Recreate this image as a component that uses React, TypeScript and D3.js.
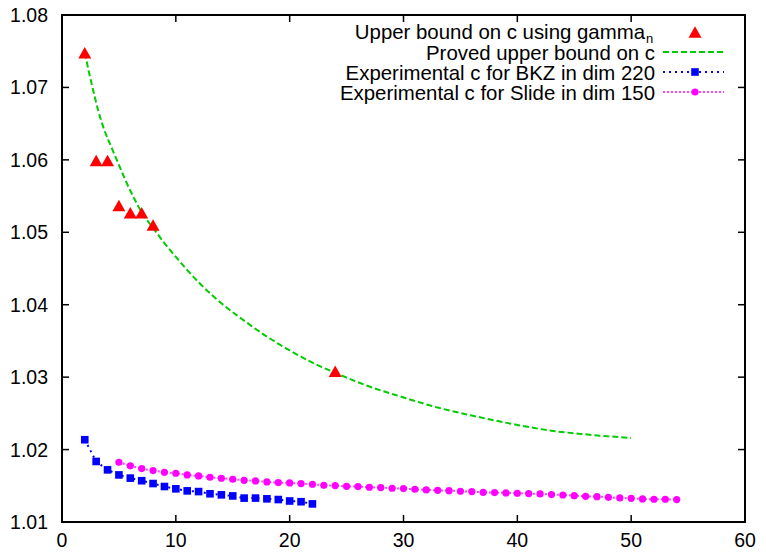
import React from "react";
import * as d3 from "d3";

// Block size k on the x axis, constant c on the y axis.
const xTicks = [0, 10, 20, 30, 40, 50, 60];
const yTicks = [1.01, 1.02, 1.03, 1.04, 1.05, 1.06, 1.07, 1.08];

// Upper bound on c using gamma_n (Hermite constants known exactly)
const gammaK = [2, 3, 4, 5, 6, 7, 8, 24];
const gammaC = [1.0748, 1.0599, 1.0599, 1.0537, 1.0527, 1.0527, 1.0510, 1.0308];

// Proved upper bound on c
const provedK = [2, 2.4, 2.8, 3.2, 3.7, 4.3, 5, 5.6, 6.3, 7.1, 8, 9, 10, 12, 14, 16, 18, 20, 22, 24, 27, 30, 33, 36, 40, 43, 46, 50];
const provedC = [1.0748, 1.0719, 1.0692, 1.0667, 1.0642, 1.0619, 1.0593, 1.0571, 1.0548, 1.0525, 1.0506, 1.0485, 1.0466, 1.0431, 1.0402, 1.0378, 1.0356, 1.0337, 1.0320, 1.0306, 1.0287, 1.0272, 1.0258, 1.0247, 1.0234, 1.0226, 1.0221, 1.0216];

// Experimental c for BKZ in dimension 220
const bkzK = [2, 3, 4, 5, 6, 7, 8, 9, 10, 11, 12, 13, 14, 15, 16, 17, 18, 19, 20, 21, 22];
const bkzC = [1.02136, 1.01836, 1.0172, 1.0165, 1.01606, 1.0157, 1.01531, 1.0149, 1.01458, 1.0143, 1.0142, 1.0139, 1.01375, 1.0136, 1.0133, 1.0133, 1.0132, 1.0131, 1.0129, 1.0128, 1.0125];

// Experimental c for Slide in dimension 150
const slideK = [5, 6, 7, 8, 9, 10, 11, 12, 13, 14, 15, 16, 17, 18, 19, 20, 21, 22, 23, 24, 25, 26, 27, 28, 29, 30, 31, 32, 33, 34, 35, 36, 37, 38, 39, 40, 41, 42, 43, 44, 45, 46, 47, 48, 49, 50, 51, 52, 53, 54];
const slideC = [1.01825, 1.01775, 1.01738, 1.0171, 1.01687, 1.01673, 1.0165, 1.01636, 1.01618, 1.01604, 1.0159, 1.01576, 1.01567, 1.01553, 1.01544, 1.0154, 1.0153, 1.01521, 1.01507, 1.01503, 1.01493, 1.01489, 1.0148, 1.01475, 1.01466, 1.01461, 1.01452, 1.01443, 1.01438, 1.01433, 1.01424, 1.0142, 1.0141, 1.01406, 1.01401, 1.01397, 1.01392, 1.01387, 1.01378, 1.01373, 1.01364, 1.01355, 1.0135, 1.01341, 1.01332, 1.01327, 1.01318, 1.01314, 1.01314, 1.01309];

const legendLabels = [
  "Upper bound on c using gamma",
  "Proved upper bound on c",
  "Experimental c for BKZ in dim 220",
  "Experimental c for Slide in dim 150",
];

const W = 766;
const H = 552;
const M = { left: 62, right: 745, top: 15, bottom: 522 };
const FONT = "'Liberation Sans', Arial, Helvetica, sans-serif";

const RED = "#ff0000";
const GREEN = "#00cc00";
const BLUE = "#0000ff";
const MAGENTA = "#ff00ff";

function Triangle({ cx, cy }: { cx: number; cy: number }) {
  const h = 11.5;
  const w = 13;
  return (
    <path
      d={`M${cx},${cy - h / 2}L${cx + w / 2},${cy + h / 2}L${cx - w / 2},${cy + h / 2}Z`}
      fill={RED}
    />
  );
}

export default function App() {
  const x = d3.scaleLinear().domain([0, 60]).range([M.left, M.right]);
  const y = d3.scaleLinear().domain([1.01, 1.08]).range([M.bottom, M.top]);

  const line = d3
    .line<[number, number]>()
    .x((d) => x(d[0]))
    .y((d) => y(d[1]));
  const smooth = d3
    .line<[number, number]>()
    .x((d) => x(d[0]))
    .y((d) => y(d[1]))
    .curve(d3.curveMonotoneX);

  const proved = provedK.map((k, i) => [k, provedC[i]] as [number, number]);
  const bkz = bkzK.map((k, i) => [k, bkzC[i]] as [number, number]);
  const slide = slideK.map((k, i) => [k, slideC[i]] as [number, number]);

  const tick = 7;
  const legTextX = 655;
  const legLineX0 = 663;
  const legLineX1 = 724;
  const legMarkX = 695;
  const legY = (i: number) => 32 + i * 20;

  return (
    <svg width={W} height={H} style={{ position: "absolute", left: 0, top: 0, background: "#fff" }} fontFamily={FONT}>
      <rect x={0} y={0} width={W} height={H} fill="#fff" />

      {/* ticks, mirrored on all four sides */}
      <g stroke="#000" strokeWidth={1.5}>
        {xTicks.slice(1, -1).map((t) => (
          <g key={`xt${t}`}>
            <line x1={x(t)} x2={x(t)} y1={M.bottom} y2={M.bottom - tick} />
            <line x1={x(t)} x2={x(t)} y1={M.top} y2={M.top + tick} />
          </g>
        ))}
        {yTicks.slice(1, -1).map((t) => (
          <g key={`yt${t}`}>
            <line x1={M.left} x2={M.left + tick} y1={y(t)} y2={y(t)} />
            <line x1={M.right} x2={M.right - tick} y1={y(t)} y2={y(t)} />
          </g>
        ))}
      </g>

      {/* tick labels */}
      <g fontSize={19.5} fill="#000">
        {yTicks.map((t) => (
          <text key={`yl${t}`} x={M.left - 14} y={y(t)} textAnchor="end" dominantBaseline="central">
            {d3.format(".2f")(t)}
          </text>
        ))}
        {xTicks.map((t) => (
          <text key={`xl${t}`} x={x(t)} y={547} textAnchor="middle">
            {t}
          </text>
        ))}
      </g>

      {/* proved upper bound */}
      <path d={smooth(proved) ?? ""} fill="none" stroke={GREEN} strokeWidth={2} strokeDasharray="6,3" />

      {/* slide reduction */}
      <path d={line(slide) ?? ""} fill="none" stroke={MAGENTA} strokeWidth={2} strokeDasharray="2,2" strokeOpacity={0.75} />
      {slide.map((d, i) => (
        <circle key={`s${i}`} cx={x(d[0])} cy={y(d[1])} r={3.6} fill={MAGENTA} />
      ))}

      {/* BKZ */}
      <path d={line(bkz) ?? ""} fill="none" stroke={BLUE} strokeWidth={2} strokeDasharray="2,4" />
      {bkz.map((d, i) => (
        <rect key={`b${i}`} x={x(d[0]) - 3.8} y={y(d[1]) - 3.8} width={7.6} height={7.6} fill={BLUE} />
      ))}

      {/* gamma_n bound */}
      {gammaK.map((k, i) => (
        <Triangle key={`g${i}`} cx={x(k)} cy={y(gammaC[i])} />
      ))}

      {/* legend */}
      <g fontSize={20.4} fill="#000">
        <text x={legTextX - 10} y={legY(0)} textAnchor="end" dominantBaseline="central">
          {legendLabels[0]}
        </text>
        <text x={legTextX - 9} y={legY(0) + 6} fontSize={13} dominantBaseline="central">
          n
        </text>
        {legendLabels.slice(1).map((s, i) => (
          <text key={s} x={legTextX} y={legY(i + 1) + 1} textAnchor="end" dominantBaseline="central">
            {s}
          </text>
        ))}
      </g>
      <Triangle cx={legMarkX} cy={legY(0)} />
      <line x1={legLineX0} x2={legLineX1} y1={legY(1)} y2={legY(1)} stroke={GREEN} strokeWidth={2} strokeDasharray="6,3" />
      <line x1={legLineX0} x2={legLineX1} y1={legY(2)} y2={legY(2)} stroke={BLUE} strokeWidth={2} strokeDasharray="2,4" />
      <rect x={legMarkX - 3.8} y={legY(2) - 3.8} width={7.6} height={7.6} fill={BLUE} />
      <line x1={legLineX0} x2={legLineX1} y1={legY(3)} y2={legY(3)} stroke={MAGENTA} strokeWidth={2} strokeDasharray="2,2" strokeOpacity={0.75} />
      <circle cx={legMarkX} cy={legY(3)} r={3.6} fill={MAGENTA} />

      {/* border */}
      <rect
        x={M.left}
        y={M.top}
        width={M.right - M.left}
        height={M.bottom - M.top}
        fill="none"
        stroke="#000"
        strokeWidth={2}
      />
    </svg>
  );
}
